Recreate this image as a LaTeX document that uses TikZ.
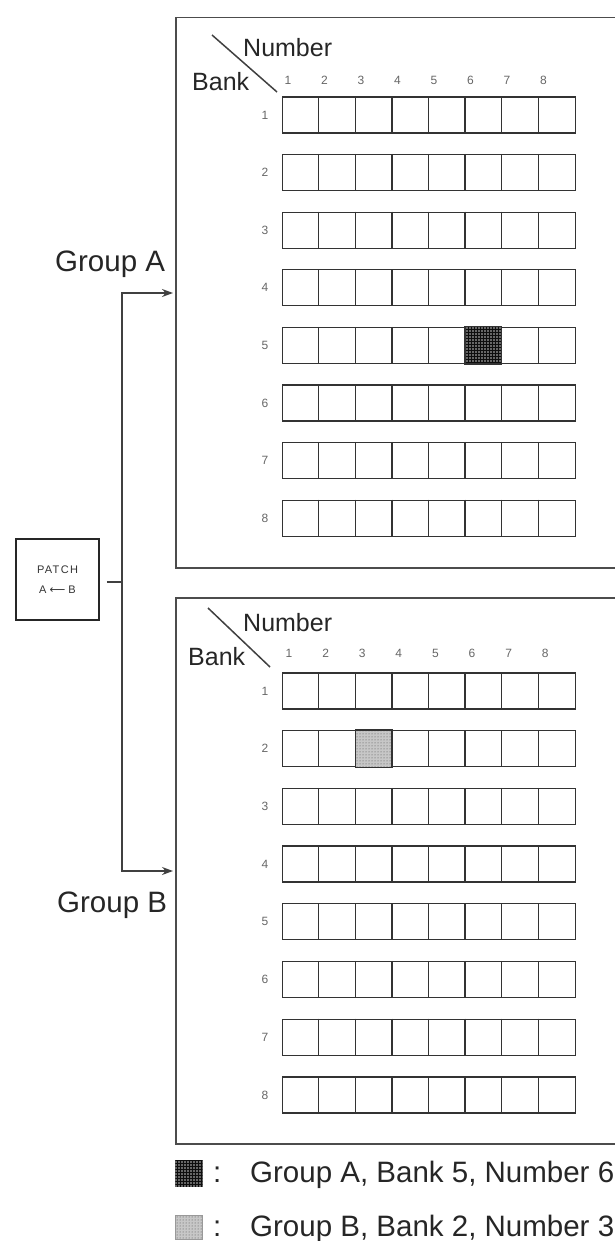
\documentclass[tikz,border=0pt]{standalone}
\usepackage{fontspec}
\setmainfont{Liberation Sans}
\newfontfamily\dejavu{DejaVu Sans}
\usetikzlibrary{patterns,arrows.meta,calc}
\begin{document}
\begin{tikzpicture}[x=1pt,y=-1pt,
  panel/.style={draw=black!70, line width=1.5pt, rectangle, inner sep=0, anchor=north west},
  cellrow/.style={draw=black!80, line width=1.3pt},
  rowbox/.style={cellrow, rectangle, minimum width=293, minimum height=36, inner sep=0, anchor=west},
  grp/.style={font=\fontsize{29.5}{34}\selectfont, text=black!85, inner sep=0, anchor=base west},
  hdr/.style={font=\fontsize{25}{30}\selectfont, text=black!85, inner sep=0, anchor=west},
  num/.style={font=\fontsize{12}{14}\selectfont, text=black!60, inner sep=0},
  conn/.style={draw=black!75, line width=1.3pt},
  arr/.style={conn, -{Stealth[length=11pt,width=8pt]}, shorten >=2pt},
  darkcell/.style={fill=black!60, postaction={pattern=grid, pattern color=black!95}},
  lightcell/.style={fill=black!22, postaction={pattern=dots, pattern color=black!70}},
]
\useasboundingbox (0,0) rectangle (615,1241);
\clip (0,0) rectangle (615,1241);

% panels
\node[panel, minimum width=470, minimum height=550] (pA) at (175,17) {};
\node[panel, minimum width=470, minimum height=546] (pB) at (175,597) {};

% top panel grid
\foreach \r in {1,...,8}{
  \node[rowbox] (ra\r) at (282,{115+(\r-1)*57.6}) {};
  \foreach \c in {1,...,7}
    \draw[cellrow] ($(ra\r.north west)+(\c*36.625,0)$) -- ($(ra\r.south west)+(\c*36.625,0)$);
  \node[num] (la\r) at (265,{115+(\r-1)*57.6}) {\r};
}
\foreach \c in {1,...,8}
  \node[num] (ca\c) at ({288+(\c-1)*36.5},80) {\c};

% bottom panel grid
\foreach \r in {1,...,8}{
  \node[rowbox] (rb\r) at (282,{691+(\r-1)*57.7}) {};
  \foreach \c in {1,...,7}
    \draw[cellrow] ($(rb\r.north west)+(\c*36.625,0)$) -- ($(rb\r.south west)+(\c*36.625,0)$);
  \node[num] (lb\r) at (265,{691+(\r-1)*57.7}) {\r};
}
\foreach \c in {1,...,8}
  \node[num] (cb\c) at ({289+(\c-1)*36.6},653) {\c};

% highlighted cells
\path[darkcell] ($(ra5.north west)+(5*36.625,0)$) rectangle ($(ra5.south west)+(6*36.625,0)$);
\draw[cellrow] ($(ra5.north west)+(5*36.625,0)$) rectangle ($(ra5.south west)+(6*36.625,0)$);
\path[lightcell] ($(rb2.north west)+(2*36.625,0)$) rectangle ($(rb2.south west)+(3*36.625,0)$);
\draw[cellrow] ($(rb2.north west)+(2*36.625,0)$) rectangle ($(rb2.south west)+(3*36.625,0)$);

% headers
\node[hdr] (nA) at (243,48) {Number};
\node[hdr] (bA) at (192,82) {Bank};
\coordinate (dA1) at (212,35); \coordinate (dA2) at (277,92);
\draw[conn, line width=1.5pt] (dA1) -- (dA2);
\node[hdr] (nB) at (243,623) {Number};
\node[hdr] (bB) at (188,657) {Bank};
\coordinate (dB1) at (208,608); \coordinate (dB2) at (270,667);
\draw[conn, line width=1.5pt] (dB1) -- (dB2);

% group labels
\node[grp] (gA) at (55,272) {Group A};
\node[grp] (gB) at (57,912) {Group B};

% patch box
\node[draw=black!85, line width=1.8pt, rectangle, minimum width=83, minimum height=81, inner sep=0,
  align=center, font=\fontsize{11}{20}\selectfont, text=black!80] (patch) at (57.5,579.5)
  {\addfontfeature{LetterSpace=12}PATCH\\A {\dejavu ⟵} B};

% connectors
\coordinate (jn) at (122,582);
\coordinate (ja) at (122,293);
\coordinate (jb) at (122,871);
\draw[conn, shorten <=7pt] (patch.east |- jn) -- (jn);
\draw[arr] (jn) -- (ja) -- (ja -| pA.west);
\draw[arr] (jn) -- (jb) -- (jb -| pB.west);

% legend
\node[darkcell, draw=black!60, line width=0.6pt, minimum width=27, minimum height=26, inner sep=0, anchor=north west] (kA) at (175,1160) {};
\node[lightcell, draw=black!40, line width=0.6pt, minimum width=27, minimum height=24, inner sep=0, anchor=north west] (kB) at (175,1215) {};
\node[grp] (cA) at (213,1182) {:};
\node[grp] (cB) at (213,1236) {:};
\node[grp] (tA) at (250,1182) {Group A, Bank 5, Number 6};
\node[grp] (tB) at (250,1236) {Group B, Bank 2, Number 3};
\end{tikzpicture}
\end{document}
